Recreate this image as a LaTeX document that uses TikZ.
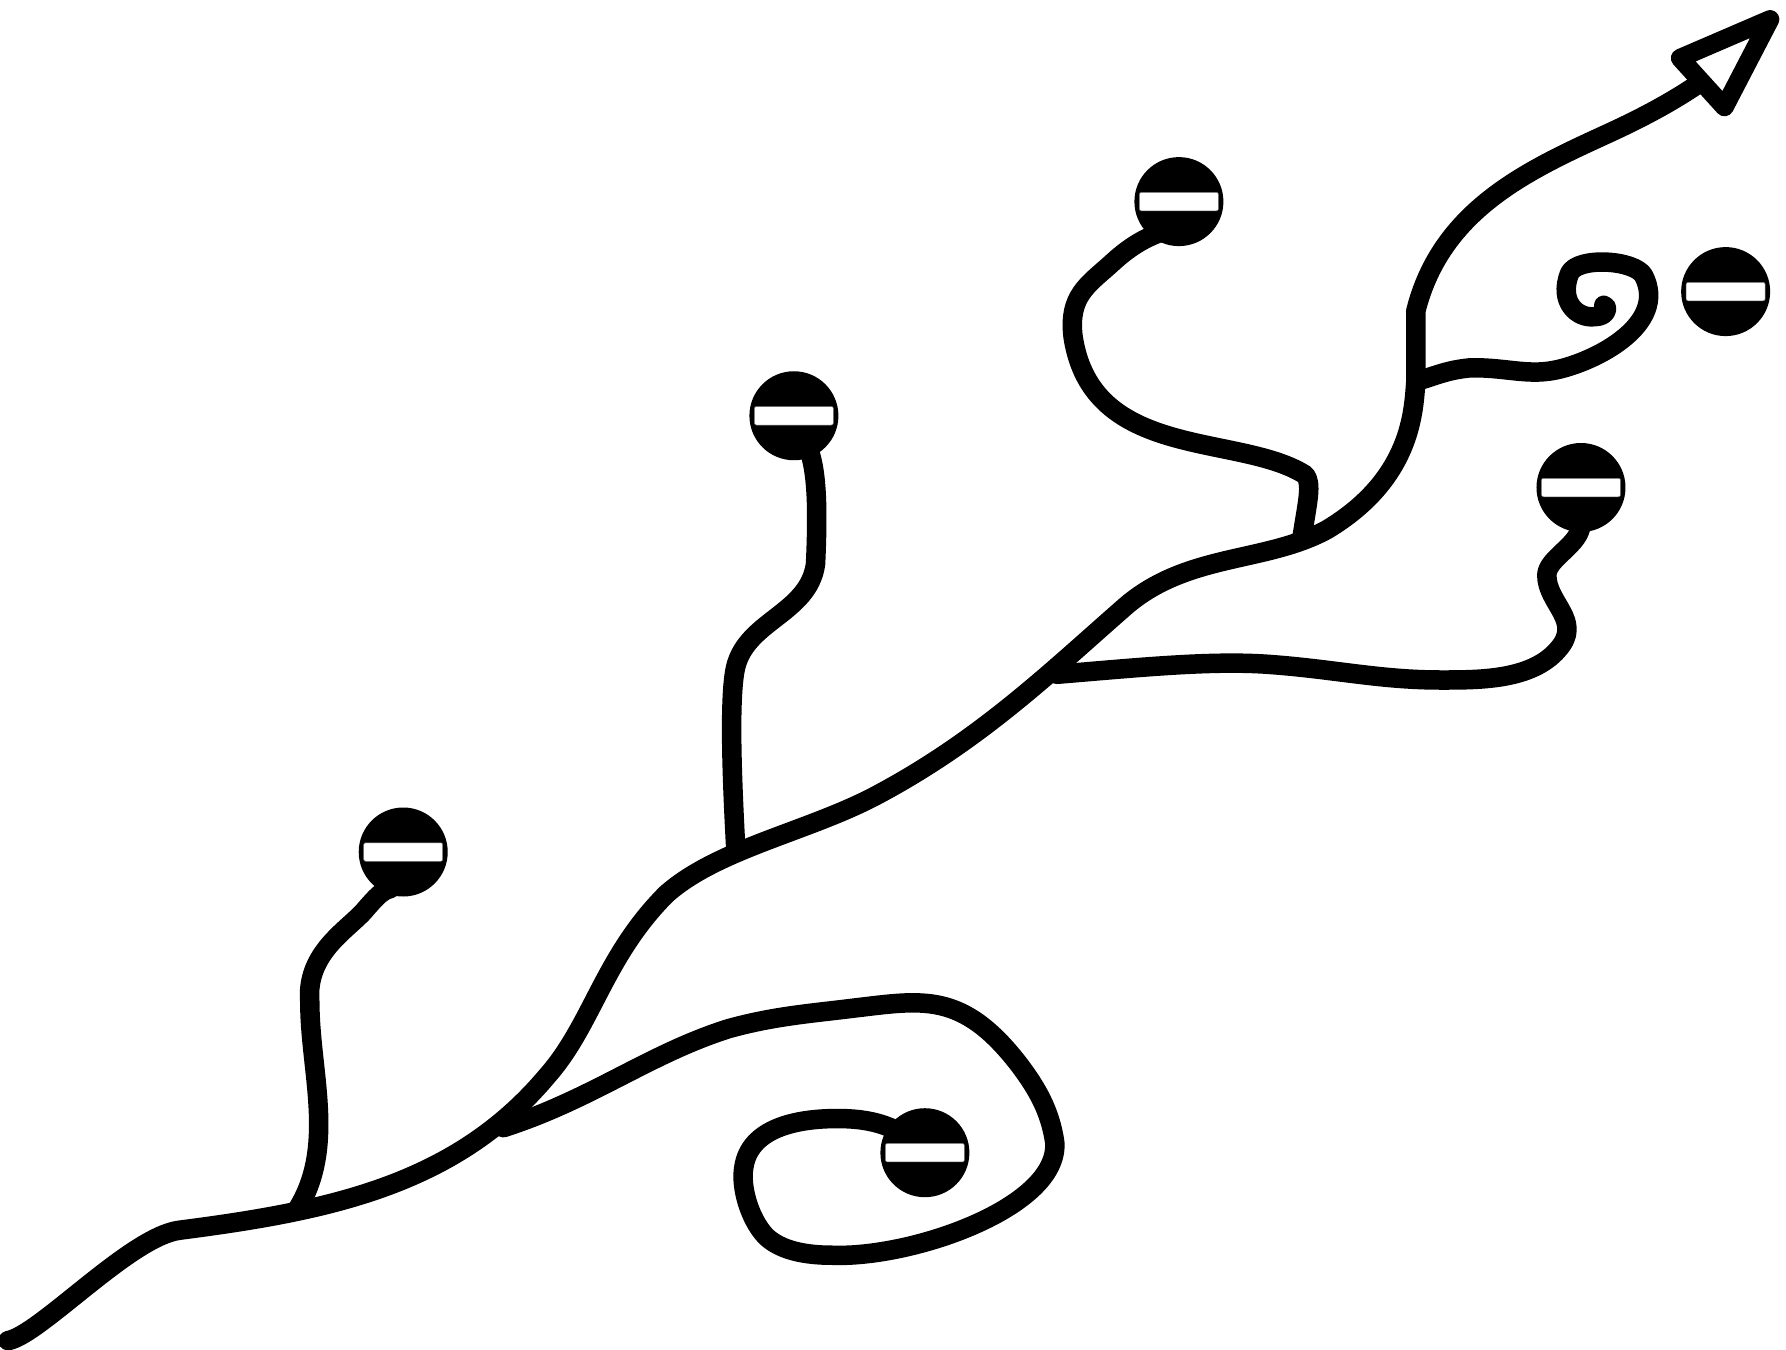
\documentclass[tikz,border=0pt]{standalone}
\tikzset{
  wire/.style={draw=black,line width=19.5pt,line cap=round,line join=round},
  signdisc/.style={circle,fill=black,draw=none,minimum size=89pt,inner sep=0},
  signbar/.style={rectangle,fill=white,draw=black!55,line width=.5pt,rounded corners=2pt,minimum width=79pt,minimum height=18.5pt,inner sep=0},
  headtri/.style={draw=black,fill=white,line width=18.5pt,line join=round}
}
\begin{document}
\begin{tikzpicture}[x=1.139pt,y=-1.139pt]
\useasboundingbox (0,0) rectangle (1568,1185);
% junctions
\coordinate (start) at (7,1177);
\coordinate (tipbase) at (1492,73);
\coordinate (ja) at (262,1060);
\coordinate (jb) at (646,746);
\coordinate (jc) at (1143,472);
\coordinate (jd) at (1243,335);
\coordinate (je) at (928,592);
\coordinate (jf) at (442,990);
\coordinate (spiralend) at (1408,268);
\coordinate (ta) at (1475,51);
\coordinate (tb) at (1554,17);
\coordinate (tc) at (1514,94);
\coordinate (sa) at (354,748);
\coordinate (sb) at (697,365);
\coordinate (sc) at (1035,177);
\coordinate (sd) at (1515,256);
\coordinate (se) at (1388,428);
\coordinate (sf) at (812,1012);
% branches
\draw[wire] (ja) .. controls (295,1005) and (272,940) .. (272,880)
  .. controls (268,835) and (308,815) .. (322,797)
  .. controls (330,788) and (335,782) .. (343,780);
\draw[wire] (jb) .. controls (643,690) and (640,620) .. (645,590)
  .. controls (652,545) and (710,540) .. (716,495)
  .. controls (718,450) and (718,410) .. (708,390);
\draw[wire] (jc) .. controls (1148,440) and (1152,425) .. (1146,417)
  .. controls (1088,380) and (958,405) .. (942,295)
  .. controls (938,260) and (955,250) .. (975,232)
  .. controls (990,218) and (1005,208) .. (1025,202);
\draw[wire] (jd) .. controls (1260,330) and (1270,325) .. (1290,323)
  .. controls (1320,322) and (1340,330) .. (1365,325)
  .. controls (1400,318) and (1465,285) .. (1443,242)
  .. controls (1435,228) and (1385,225) .. (1378,240)
  .. controls (1368,265) and (1385,280) .. (1400,278)
  .. controls (1412,278) and (1412,268) .. (spiralend);
\draw[wire] (je) .. controls (1000,586) and (1060,580) .. (1110,583)
  .. controls (1170,587) and (1210,597) .. (1265,597)
  .. controls (1300,597) and (1345,597) .. (1368,570)
  .. controls (1390,545) and (1358,530) .. (1358,505)
  .. controls (1358,490) and (1388,478) .. (1388,460) -- (se);
\draw[wire] (jf) .. controls (520,965) and (570,925) .. (640,903)
  .. controls (680,892) and (710,890) .. (750,885)
  .. controls (810,878) and (845,870) .. (895,935)
  .. controls (910,955) and (922,975) .. (926,1003)
  .. controls (930,1060) and (800,1105) .. (730,1102)
  .. controls (700,1102) and (682,1095) .. (672,1085)
  .. controls (658,1070) and (650,1042) .. (653,1025)
  .. controls (658,990) and (700,982) .. (735,982)
  .. controls (765,982) and (790,988) .. (sf);
% main line
\draw[wire] (start) .. controls (35,1172) and (115,1085) .. (158,1080)
  .. controls (290,1063) and (400,1040) .. (480,945)
  .. controls (520,900) and (530,840) .. (585,785)
  .. controls (630,745) and (710,730) .. (770,698)
  .. controls (860,650) and (920,592) .. (985,535)
  .. controls (1040,485) and (1110,495) .. (1165,465)
  .. controls (1240,420) and (1241,360) .. (jd)
  -- (1243,273)
  .. controls (1265,185) and (1340,150) .. (1410,118)
  .. controls (1445,102) and (1470,88) .. (tipbase);
% arrow head
\draw[headtri] (ta) -- (tb) -- (tc) -- cycle;
% signs
\foreach \n in {sa,sb,sc,sd,se,sf}{
  \node[signdisc] (\n-disc) at (\n) {};
  \node[signbar] (\n-bar) at (\n) {};
}
\end{tikzpicture}
\end{document}
